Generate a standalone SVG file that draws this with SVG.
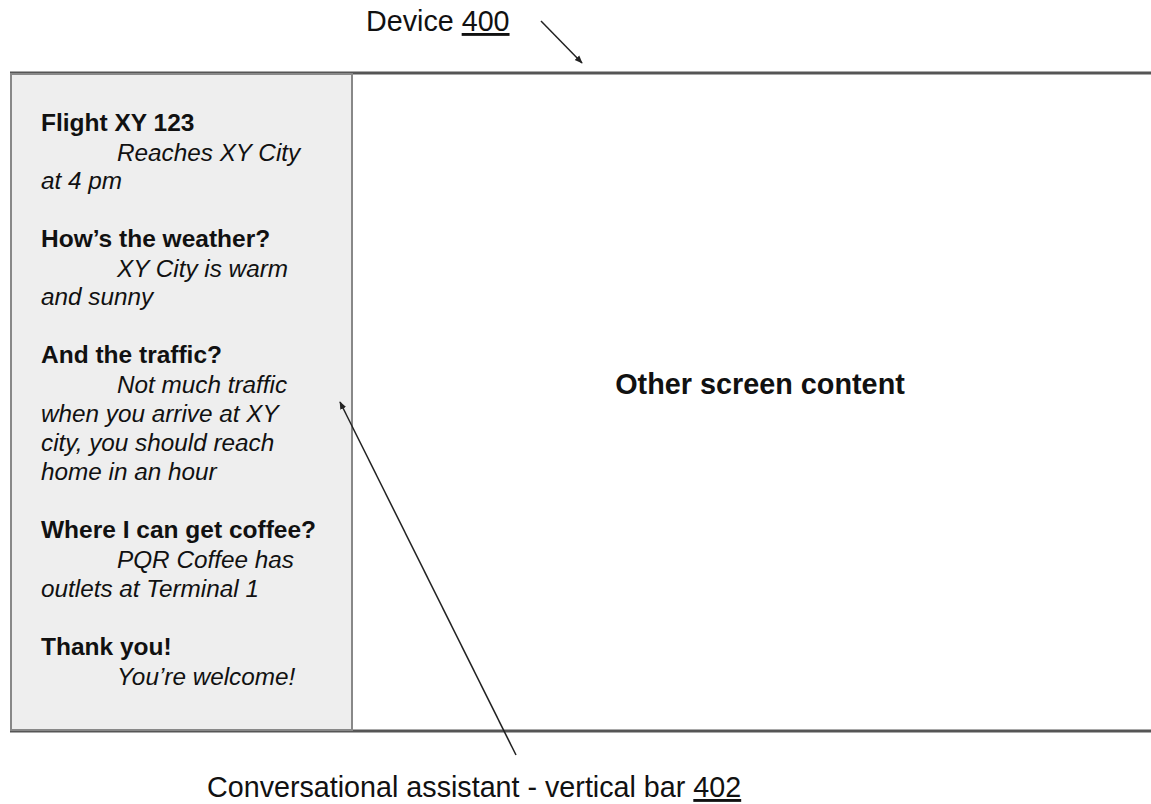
<svg xmlns="http://www.w3.org/2000/svg" width="1151" height="804" viewBox="0 0 1151 804">
<defs>
<style>
text{font-family:"Liberation Sans",Arial,sans-serif;fill:#111}
.b{font-weight:bold;font-size:24.5px}
.i{font-style:italic;font-size:24.3px}
.lbl{font-size:28.7px}
</style>
<marker id="ah" viewBox="0 0 10 10" refX="9" refY="5" markerWidth="8" markerHeight="8" markerUnits="userSpaceOnUse" orient="auto"><path d="M0,1 L10,5 L0,9 z" fill="#222"/></marker>
</defs>
<rect width="1151" height="804" fill="#fff"/>
<g id="device">
<rect x="11" y="73" width="1150" height="658" fill="#fff" stroke="none"/>
<line x1="10" y1="73" x2="1151" y2="73" stroke="#555" stroke-width="3"/>
<line x1="10" y1="731" x2="1151" y2="731" stroke="#555" stroke-width="3"/>
</g>
<g id="bar">
<rect x="11" y="74" width="341" height="656" fill="#eeeeee" stroke="#888" stroke-width="2"/>
<text class="b" x="41" y="131">Flight XY 123</text>
<text class="i" x="117" y="161">Reaches XY City</text>
<text class="i" x="41" y="189">at 4 pm</text>
<text class="b" x="41" y="247">How’s the weather?</text>
<text class="i" x="117" y="277">XY City is warm</text>
<text class="i" x="41" y="305">and sunny</text>
<text class="b" x="41" y="363">And the traffic?</text>
<text class="i" x="117" y="393">Not much traffic</text>
<text class="i" x="41" y="422">when you arrive at XY</text>
<text class="i" x="41" y="451">city, you should reach</text>
<text class="i" x="41" y="480">home in an hour</text>
<text class="b" x="41" y="538">Where I can get coffee?</text>
<text class="i" x="117" y="568">PQR Coffee has</text>
<text class="i" x="41" y="597">outlets at Terminal 1</text>
<text class="b" x="41" y="655">Thank you!</text>
<text class="i" x="117" y="685">You’re welcome!</text>
</g>
<g id="content">
<text x="760" y="394" text-anchor="middle" style="font-weight:bold;font-size:28.8px">Other screen content</text>
</g>
<g id="labels">
<text class="lbl" x="366" y="31">Device <tspan text-decoration="underline">400</tspan></text>
<text class="lbl" x="207" y="797">Conversational assistant - vertical bar <tspan text-decoration="underline">402</tspan></text>
</g>
<g id="connectors" stroke="#222" stroke-width="1.5" fill="none">
<line x1="541" y1="21" x2="582" y2="63" marker-end="url(#ah)"/>
<line x1="516" y1="755" x2="340" y2="402" marker-end="url(#ah)"/>
</g>
</svg>
